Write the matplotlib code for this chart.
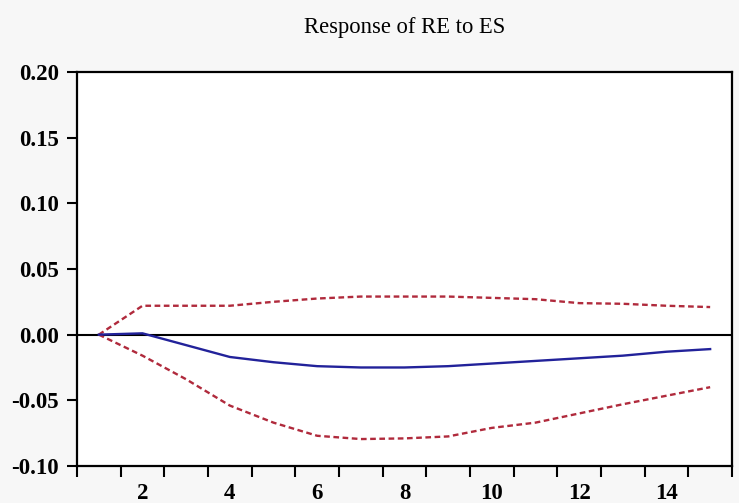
import numpy as np
import matplotlib.pyplot as plt
from matplotlib.ticker import FixedLocator

periods = list(range(1, 16))
response = [0.000, 0.001, -0.008, -0.017, -0.021, -0.024, -0.025, -0.025,
            -0.024, -0.022, -0.020, -0.018, -0.016, -0.013, -0.011]
upper = [0.000, 0.022, 0.022, 0.022, 0.025, 0.0275, 0.029, 0.029,
         0.029, 0.028, 0.027, 0.024, 0.0235, 0.022, 0.021]
lower = [0.000, -0.016, -0.034, -0.054, -0.067, -0.077, -0.0795, -0.079,
         -0.0775, -0.071, -0.067, -0.060, -0.053, -0.0465, -0.040]

title = "Response of RE to ES"
y_ticks = [-0.10, -0.05, 0.00, 0.05, 0.10, 0.15, 0.20]
x_labels = [2, 4, 6, 8, 10, 12, 14]

fig = plt.figure(figsize=(7.39, 5.03), dpi=100, facecolor='#f7f7f7')
ax = fig.add_axes([0.1042, 0.0736, 0.8863, 0.7833])
ax.set_facecolor('white')

red = '#b02a3c'
blue = '#22229a'
ax.axhline(0, color='black', lw=1.5, zorder=1)
ax.plot(periods, upper, color=red, lw=1.7, ls=(0, (2.4, 1.5)), zorder=2)
ax.plot(periods, lower, color=red, lw=1.7, ls=(0, (2.4, 1.5)), zorder=2)
ax.plot(periods, response, color=blue, lw=1.7, zorder=3)

ax.set_xlim(0.5, 15.5)
ax.set_ylim(-0.10, 0.20)

for s in ax.spines.values():
    s.set_linewidth(1.6)

# tick marks sit between periods, labels on even periods
ax.xaxis.set_major_locator(FixedLocator(x_labels))
ax.xaxis.set_minor_locator(FixedLocator(np.arange(0.5, 16, 1)))
ax.tick_params(axis='x', which='major', length=0, pad=12)
ax.tick_params(axis='x', which='minor', length=8, width=1.5, direction='out')
ax.set_yticks(y_ticks)
ax.set_yticklabels(['%.2f' % v for v in y_ticks])
ax.tick_params(axis='y', length=7, width=1.5, direction='out', pad=6)

for lab in ax.get_xticklabels() + ax.get_yticklabels():
    lab.set_fontfamily('Liberation Serif')
    lab.set_fontweight('bold')
    lab.set_fontsize(16.5)

fig.text(0.547, 0.946, title, ha='center', va='center',
         fontfamily='Liberation Serif', fontsize=16.3)

fig.savefig('out.png', dpi=100, facecolor=fig.get_facecolor())
